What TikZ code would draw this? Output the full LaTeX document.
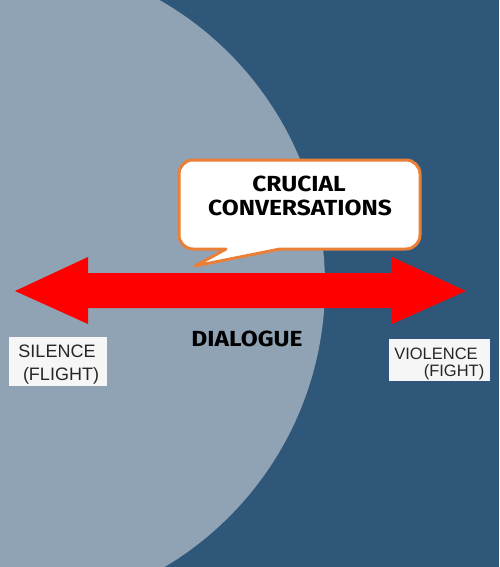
\documentclass[tikz,border=0pt]{standalone}
\usepackage{fontspec}
\setmainfont{Fira Sans}
\newfontfamily\handfont{Liberation Sans}
\definecolor{darkbg}{RGB}{46,87,122}
\definecolor{lightbg}{RGB}{143,163,181}
\definecolor{bubbleorange}{RGB}{234,128,56}
\definecolor{labelwhite}{RGB}{246,246,246}
\newcommand{\wide}[1]{\scalebox{1.17}[1.04]{#1}}
\begin{document}
\begin{tikzpicture}[x=1pt,y=-1pt,
  title/.style={font=\fontsize{21}{24}\selectfont\bfseries, text=black, align=center, inner sep=0pt},
  hand/.style={font=\handfont\fontsize{18}{19}\selectfont, text=black!85, inner sep=0pt},
  handr/.style={font=\handfont\fontsize{16.5}{18}\selectfont, text=black!85, inner sep=0pt},
  labelbox/.style={fill=labelwhite, draw=none}]
\useasboundingbox (0,0) rectangle (499,567);
% backgrounds
\fill[darkbg] (0,0) rectangle (499,567);
\begin{scope}
  \clip (0,0) rectangle (499,567);
  \fill[lightbg] (-3,285) circle[radius=328];
\end{scope}
% arrow
\fill[red] (15,291) -- (88,257) -- (88,273) -- (392,273) -- (392,257) -- (466,291)
  -- (392,324) -- (392,308) -- (88,308) -- (88,324) -- cycle;
% speech bubble
\draw[bubbleorange, line width=3pt, fill=white, line join=round]
  (226,249) -- (195,266) -- (280,249) [rounded corners=14pt] -- (420,249) -- (420,160) -- (179,160) -- (179,249) [sharp corners] -- cycle;
\node[title] (cc1) at (299,184) {\wide{CRUCIAL}};
\node[title] (cc2) at (300,208) {\wide{CONVERSATIONS}};
% dialogue
\node[title] (dia) at (247,339) {\wide{DIALOGUE}};
% labels
\fill[labelwhite] (9,337) rectangle (107,386);
\node[hand] (sil) at (57,351) {SILENCE};
\node[hand] (fli) at (61,376) {(FLIGHT)};
\fill[labelwhite] (389,339) rectangle (490,381);
\node[handr] (vio) at (436,354) {VIOLENCE};
\node[handr] (fig) at (454,372) {(FIGHT)};
\end{tikzpicture}
\end{document}
